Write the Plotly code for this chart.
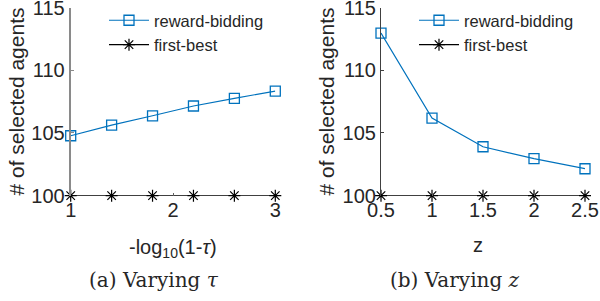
import plotly.graph_objects as go

# ---- data ----
tau_x = [1.0, 1.4, 1.8, 2.2, 2.6, 3.0]
tau_reward = [104.78, 105.63, 106.37, 107.15, 107.76, 108.34]
tau_first = [100, 100, 100, 100, 100, 100]

z_x = [0.5, 1.0, 1.5, 2.0, 2.5]
z_reward = [112.96, 106.19, 103.90, 102.95, 102.15]
z_first = [100, 100, 100, 100, 100]

y_ticks = [100, 105, 110, 115]
tau_ticks = [1, 2, 3]
z_ticks = [0.5, 1, 1.5, 2, 2.5]
z_ticklabels = ["0.5", "1", "1.5", "2", "2.5"]

BLUE = "#0072BD"
SANS = "Liberation Sans, Arial, Helvetica, sans-serif"
SERIF = "DejaVu Serif, serif"
TXT = "#262626"

W, H = 600, 301
def px(x): return x / W
def py(y): return 1 - y / H

fig = go.Figure()

def add_panel(xv, rv, fv, xa, ya, legend):
    fig.add_trace(go.Scatter(x=xv, y=rv, name="reward-bidding", mode="lines+markers",
                             line=dict(color=BLUE, width=1.2),
                             marker=dict(symbol="square-open", size=10, color=BLUE, line=dict(width=1.3)),
                             xaxis=xa, yaxis=ya, legend=legend, cliponaxis=False))
    fig.add_trace(go.Scatter(x=xv, y=fv, name="first-best", mode="lines+markers",
                             line=dict(color="black", width=1.2),
                             marker=dict(symbol="asterisk-open", size=10, color="black", line=dict(width=1.2)),
                             xaxis=xa, yaxis=ya, legend=legend, cliponaxis=False))

add_panel(tau_x, tau_reward, tau_first, "x", "y", "legend")
add_panel(z_x, z_reward, z_first, "x2", "y2", "legend2")

ydom = [py(195.7), py(7.5)]
common_x = dict(showgrid=False, zeroline=False, showline=False, ticks="inside", ticklen=3,
                tickcolor="#606060", automargin=False, ticklabeloverflow="allow",
                tickfont=dict(family=SANS, size=20, color=TXT))
common_y = dict(showgrid=False, zeroline=False, showline=True, ticks="inside", ticklen=3,
                range=[100, 115.001], tickvals=y_ticks, domain=ydom, automargin=False,
                ticklabeloverflow="allow",
                tickfont=dict(family=SANS, size=20, color=TXT))

fig.update_layout(
    template="none",
    width=W, height=H, margin=dict(l=0, r=0, t=0, b=0, pad=0),
    paper_bgcolor="white", plot_bgcolor="white",
    xaxis=dict(common_x, range=[1, 3], tickvals=tau_ticks, domain=[px(70.7), px(275.3)], anchor="y"),
    yaxis=dict(common_y, anchor="x", linecolor="#8a8a8a", linewidth=2, tickcolor="#8a8a8a"),
    xaxis2=dict(common_x, range=[0.5, 2.5], tickvals=z_ticks, ticktext=z_ticklabels,
                domain=[px(381), px(585)], anchor="y2"),
    yaxis2=dict(common_y, anchor="x2", linecolor="#404040", linewidth=1.2, tickcolor="#404040"),
    legend=dict(x=px(104), y=py(3), xanchor="left", yanchor="top", bgcolor="rgba(0,0,0,0)",
                font=dict(family=SANS, size=16.5, color=TXT), tracegroupgap=0, itemwidth=40),
    legend2=dict(x=px(414), y=py(3), xanchor="left", yanchor="top", bgcolor="rgba(0,0,0,0)",
                 font=dict(family=SANS, size=16.5, color=TXT), tracegroupgap=0, itemwidth=40),
    showlegend=True,
)

annos = [
    dict(text="# of selected agents", x=px(16), y=py(101.5), textangle=-90, size=21, fam=SANS),
    dict(text="# of selected agents", x=px(326), y=py(101.5), textangle=-90, size=21, fam=SANS),
    dict(text="-log<sub>10</sub>(1-<i>τ</i>)", x=px(173), y=py(248), textangle=0, size=20, fam=SANS),
    dict(text="z", x=px(478), y=py(245), textangle=0, size=20, fam=SANS),
    dict(text="(a) Varying <i>τ</i>", x=px(154), y=py(280), textangle=0, size=20, fam=SERIF),
    dict(text="(b) Varying <i>z</i>", x=px(455), y=py(280), textangle=0, size=20, fam=SERIF),
]
for a in annos:
    fig.add_annotation(text=a["text"], x=a["x"], y=a["y"], xref="paper", yref="paper",
                       xanchor="center", yanchor="middle", showarrow=False, textangle=a["textangle"],
                       font=dict(family=a["fam"], size=a["size"], color=TXT))

fig.write_html("out.html", config={"displayModeBar": False},
               post_script="document.body.style.margin='0';document.body.style.padding='0';")
